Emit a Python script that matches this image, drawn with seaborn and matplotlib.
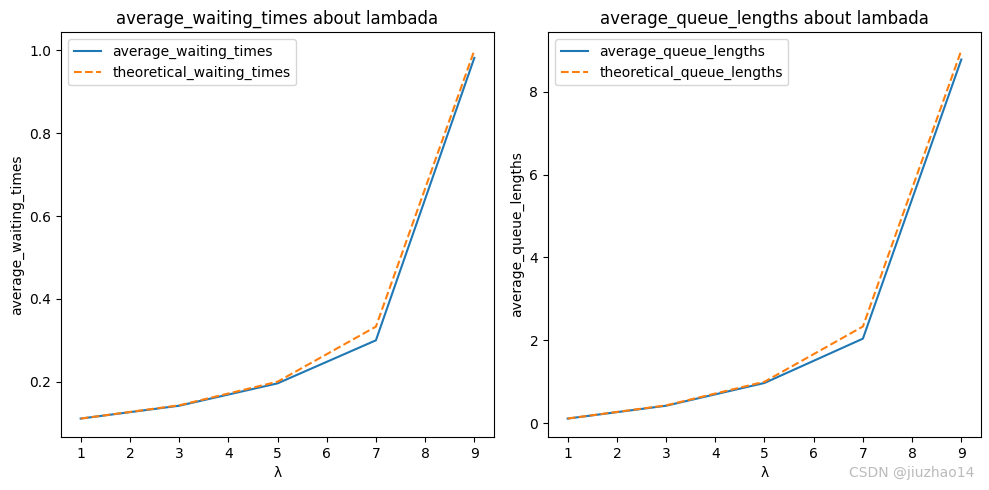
import matplotlib
matplotlib.use("Agg")
import matplotlib.pyplot as plt
import seaborn as sns

lambdas = [1, 3, 5, 7, 9]
average_waiting_times = [0.111, 0.142, 0.196, 0.300, 0.982]
theoretical_waiting_times = [0.111, 0.143, 0.200, 0.333, 1.000]
average_queue_lengths = [0.11, 0.42, 0.97, 2.04, 8.78]
theoretical_queue_lengths = [0.111, 0.429, 1.000, 2.333, 9.000]

fig, axes = plt.subplots(1, 2, figsize=(9.89, 4.9), dpi=100)

ax = axes[0]
sns.lineplot(x=lambdas, y=average_waiting_times, ax=ax, label="average_waiting_times", color="#1f77b4")
sns.lineplot(x=lambdas, y=theoretical_waiting_times, ax=ax, label="theoretical_waiting_times",
             color="#ff7f0e", linestyle="--")
ax.set_title("average_waiting_times about lambada")
ax.set_xlabel("λ")
ax.set_ylabel("average_waiting_times")
ax.legend(loc="upper left")

ax = axes[1]
sns.lineplot(x=lambdas, y=average_queue_lengths, ax=ax, label="average_queue_lengths", color="#1f77b4")
sns.lineplot(x=lambdas, y=theoretical_queue_lengths, ax=ax, label="theoretical_queue_lengths",
             color="#ff7f0e", linestyle="--")
ax.set_title("average_queue_lengths about lambada")
ax.set_xlabel("λ")
ax.set_ylabel("average_queue_lengths")
ax.legend(loc="upper left")

fig.subplots_adjust(left=0.0617, right=0.9919, top=0.9347, bottom=0.1082, wspace=0.1247)
fig.text(0.985, 0.02, "CSDN @jiuzhao14", ha="right", va="bottom", color="#bbbbbb", fontsize=10)
fig.savefig("out.png", dpi=100)
